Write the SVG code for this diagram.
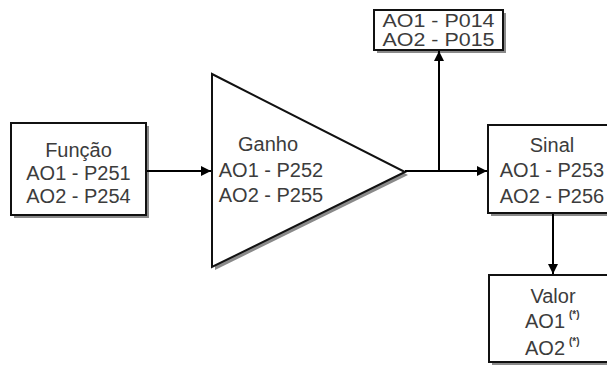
<svg xmlns="http://www.w3.org/2000/svg" width="607" height="367" viewBox="0 0 607 367">
<defs>
<marker id="arr" viewBox="0 0 10 10" refX="10" refY="5" markerWidth="10" markerHeight="10" markerUnits="userSpaceOnUse" orient="auto">
<path d="M0,0 L10,5 L0,10 z" fill="#000"/>
</marker>
</defs>
<style>
.box{fill:#fff;stroke:#111;stroke-width:2}
.sh{fill:#8a8a8a}
.t{font-family:"Liberation Sans",Arial,sans-serif;font-size:20px;fill:#3c3c3c;text-anchor:middle}
.s{font-size:18px}
.sup{font-family:"Liberation Sans",Arial,sans-serif;font-size:10px;font-weight:bold;fill:#3c3c3c}
.c{stroke:#000;stroke-width:2;fill:none}
</style>
<rect width="607" height="367" fill="#fff"/>
<g id="funcao">
<rect class="sh" x="14" y="126" width="135" height="92"/>
<rect class="box" x="11" y="123" width="135" height="92"/>
<text class="t" x="78.5" y="157">Função</text>
<text class="t" x="78.5" y="180">AO1 - P251</text>
<text class="t" x="78.5" y="203">AO2 - P254</text>
</g>
<g id="ganho">
<polygon class="sh" points="215,77 408,175 215,270"/>
<polygon class="box" points="212,74 405,172 212,267"/>
<text class="t" x="268" y="151">Ganho</text>
<text class="t" x="271" y="177">AO1 - P252</text>
<text class="t" x="271" y="202">AO2 - P255</text>
</g>
<g id="leitura">
<rect class="sh" x="377" y="13" width="129" height="40"/>
<rect class="box" x="374" y="10" width="129" height="40"/>
<text class="t s" x="438.5" y="27" textLength="112" lengthAdjust="spacingAndGlyphs">AO1 - P014</text>
<text class="t s" x="438.5" y="46" textLength="112" lengthAdjust="spacingAndGlyphs">AO2 - P015</text>
</g>
<g id="sinal">
<rect class="sh" x="491" y="128" width="130" height="88"/>
<rect class="box" x="488" y="125" width="130" height="88"/>
<text class="t" x="552" y="152">Sinal</text>
<text class="t" x="552" y="177">AO1 - P253</text>
<text class="t" x="552" y="203">AO2 - P256</text>
</g>
<g id="valor">
<rect class="sh" x="492" y="278" width="130" height="87"/>
<rect class="box" x="489" y="275" width="130" height="87"/>
<text class="t" x="553" y="303">Valor</text>
<text class="t" x="545" y="328">AO1</text>
<text class="sup" x="569" y="318">(*)</text>
<text class="t" x="545" y="355">AO2</text>
<text class="sup" x="569" y="345">(*)</text>
</g>
<g id="connectors">
<line class="c" x1="147" y1="171" x2="211" y2="171" marker-end="url(#arr)"/>
<line class="c" x1="405" y1="171" x2="487" y2="171" marker-end="url(#arr)"/>
<line class="c" x1="439" y1="171" x2="439" y2="51" marker-end="url(#arr)"/>
<line class="c" x1="553" y1="214" x2="553" y2="274" marker-end="url(#arr)"/>
</g>
</svg>
